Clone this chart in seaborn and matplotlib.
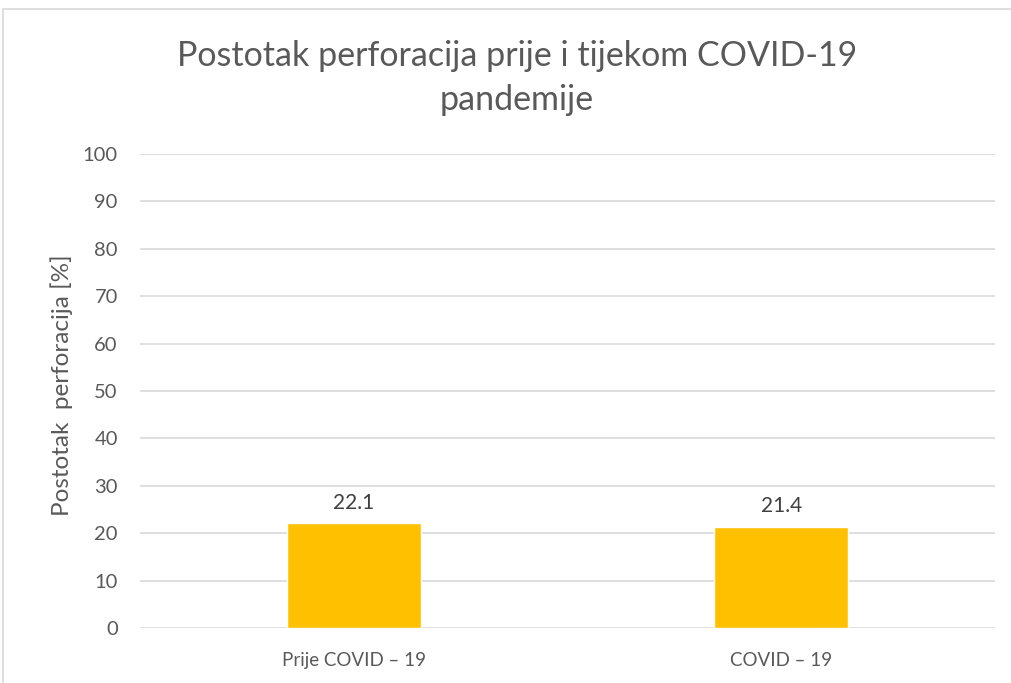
import matplotlib
matplotlib.use("Agg")
import matplotlib.pyplot as plt
import seaborn as sns
from matplotlib.patches import Rectangle

categories = ["Prije COVID – 19", "COVID – 19"]
values = [22.1, 21.4]
y_ticks = list(range(0, 101, 10))

sns.set_theme(style="white")
plt.rcParams["font.family"] = ["Lato", "DejaVu Sans"]

text_color = "#595959"
grid_color = "#D9D9D9"

fig = plt.figure(figsize=(10.12, 6.83), dpi=100)
ax = fig.add_axes([140 / 1012, 1 - 628 / 683, 855 / 1012, (628 - 154) / 683])

sns.barplot(x=categories, y=values, color="#FFC000", width=0.314,
            saturation=1, ax=ax, zorder=3)

ax.set_xlim(-0.5, 1.5)
ax.set_ylim(0, 100)
ax.set_yticks(y_ticks)
ax.yaxis.grid(True, color=grid_color, linewidth=1.2, zorder=0)
ax.set_axisbelow(True)
for s in ax.spines.values():
    s.set_visible(False)
ax.tick_params(axis="both", length=0, colors=text_color)
ax.tick_params(axis="y", pad=16, labelsize=14.5)
ax.tick_params(axis="x", pad=17, labelsize=13.5)
ax.set_xlabel("")
ax.set_ylabel("")

for i, v in enumerate(values):
    ax.annotate(f"{v:.1f}", (i, v), xytext=(0, 14.5), textcoords="offset points",
                ha="center", va="center", fontsize=15, color="#404040")

fig.text(62 / 1012, 1 - 385 / 683, "Postotak  perforacija [%]", rotation=90,
         ha="center", va="center", fontsize=17.5, color=text_color)
fig.text(517 / 1012, 1 - 78 / 683, "Postotak perforacija prije i tijekom COVID-19\npandemije",
         ha="center", va="center", fontsize=24.5, color=text_color, linespacing=1.43)

fig.patches.append(Rectangle((3 / 1012, -0.05), 1.1, 1 - 9 / 683 + 0.05,
                             transform=fig.transFigure, fill=False,
                             edgecolor=grid_color, linewidth=1.2))

fig.savefig("out.png", dpi=100)
